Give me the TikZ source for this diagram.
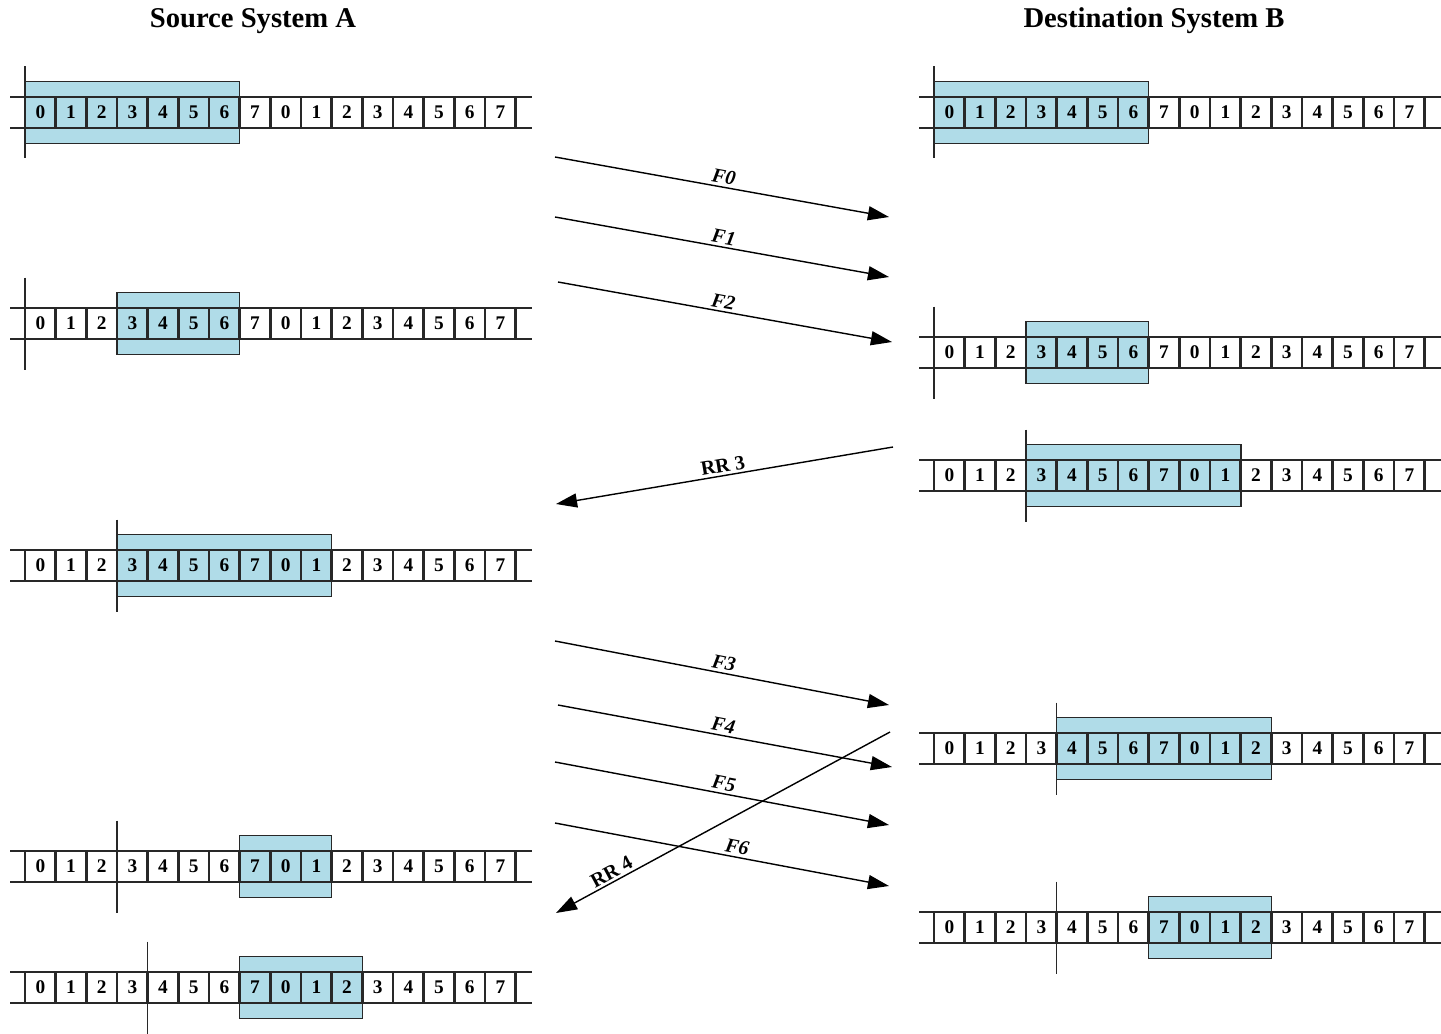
\documentclass[tikz,border=0pt]{standalone}
\usepackage{fontspec}
\setmainfont{Liberation Serif}
\usepackage{tikz}
\usetikzlibrary{arrows.meta}

\definecolor{winblue}{RGB}{176,220,232}
\definecolor{linegray}{RGB}{40,40,40}

\newcommand{\cellw}{30.67}
% #1 name, #2 left edge of cell 0, #3 centre y, #4/#5 first/last window cell, #6 marker cell
\newcommand{\seqrow}[6]{%
    \fill[win fill] ({#2+#4*\cellw},{#3-31}) rectangle ({#2+(#5+1)*\cellw},{#3+31});
    \draw[rail] ({#2-15},{#3-15.5}) -- ({#2+16*\cellw+16},{#3-15.5});
    \draw[rail] ({#2-15},{#3+15.5}) -- ({#2+16*\cellw+16},{#3+15.5});
    \foreach \k in {0,...,16}
        \draw[divider] ({#2+\k*\cellw},{#3-15.5}) -- ({#2+\k*\cellw},{#3+15.5});
    \foreach \k in {0,...,15}{
        \pgfmathtruncatemacro{\seqno}{mod(\k,8)}
        \node[seq num] (#1-\k) at ({#2+(\k+0.5)*\cellw},#3) {\seqno};
    }
    \draw[win line] ({#2+#4*\cellw},{#3-31}) rectangle ({#2+(#5+1)*\cellw},{#3+31});
    \draw[marker line] ({#2+#6*\cellw},{#3-46}) -- ({#2+#6*\cellw},{#3+46});
}

\begin{document}
\begin{tikzpicture}[
                    x=0.02cm, y=-0.02cm,
                    rail/.style={draw=linegray, line width=0.9pt},
                    divider/.style={draw=linegray, line width=1.5pt},
                    win fill/.style={fill=winblue},
                    win line/.style={draw=linegray, line width=0.9pt},
                    marker line/.style={draw=linegray, line width=0.9pt},
                    seq num/.style={inner sep=0pt, font=\bfseries\fontsize{11}{11}\selectfont},
                    title/.style={font=\bfseries\fontsize{16.3}{16.3}\selectfont},
                    msg/.style={draw=black, line width=0.8pt, -{Triangle[length=12pt, width=8pt]}},
                    flabel/.style={sloped, above, inner sep=1.5pt, font=\bfseries\itshape\fontsize{11.5}{11.5}\selectfont},
                    rrlabel/.style={sloped, above, inner sep=1.5pt, font=\bfseries\fontsize{11.5}{11.5}\selectfont}
                ]
    \useasboundingbox (0,0) rectangle (1441,1034);

    \node[title] (srcA) at (253,21) {Source System A};
    \node[title] (dstB) at (1154,21) {Destination System B};

    \seqrow{a1}{25}{112.5}{0}{6}{0}
    \seqrow{a2}{25}{323.5}{3}{6}{0}
    \seqrow{a3}{25}{565.5}{3}{9}{3}
    \seqrow{a4}{25}{866.5}{7}{9}{3}
    \seqrow{a5}{25}{987.5}{7}{10}{4}

    \seqrow{b1}{934}{112.5}{0}{6}{0}
    \seqrow{b2}{934}{352.5}{3}{6}{0}
    \seqrow{b3}{934}{475.5}{3}{9}{3}
    \seqrow{b4}{934}{748.5}{4}{10}{4}
    \seqrow{b5}{934}{927.5}{7}{10}{4}

    \coordinate (f0s) at (555,157);  \coordinate (f0e) at (889,217);
    \coordinate (f1s) at (555,217);  \coordinate (f1e) at (889,277);
    \coordinate (f2s) at (558,282);  \coordinate (f2e) at (892,342);
    \coordinate (rr3s) at (893,447); \coordinate (rr3e) at (556,504);
    \coordinate (f3s) at (555,641);  \coordinate (f3e) at (889,705);
    \coordinate (f4s) at (558,705);  \coordinate (f4e) at (892,767);
    \coordinate (f5s) at (555,762);  \coordinate (f5e) at (889,825);
    \coordinate (f6s) at (555,823);  \coordinate (f6e) at (889,886);
    \coordinate (rr4s) at (890,732); \coordinate (rr4e) at (556,913);

    \draw[msg] (f0s) -- node[flabel, pos=0.5] {F0} (f0e);
    \draw[msg] (f1s) -- node[flabel, pos=0.5] {F1} (f1e);
    \draw[msg] (f2s) -- node[flabel, pos=0.49] {F2} (f2e);
    \draw[msg] (rr3s) -- node[rrlabel, pos=0.5] {RR 3} (rr3e);
    \draw[msg] (f3s) -- node[flabel, pos=0.5] {F3} (f3e);
    \draw[msg] (f4s) -- node[flabel, pos=0.49] {F4} (f4e);
    \draw[msg] (f5s) -- node[flabel, pos=0.5] {F5} (f5e);
    \draw[msg] (f6s) -- node[flabel, pos=0.54] {F6} (f6e);
    \draw[msg] (rr4s) -- node[rrlabel, pos=0.82] {RR 4} (rr4e);
\end{tikzpicture}
\end{document}
